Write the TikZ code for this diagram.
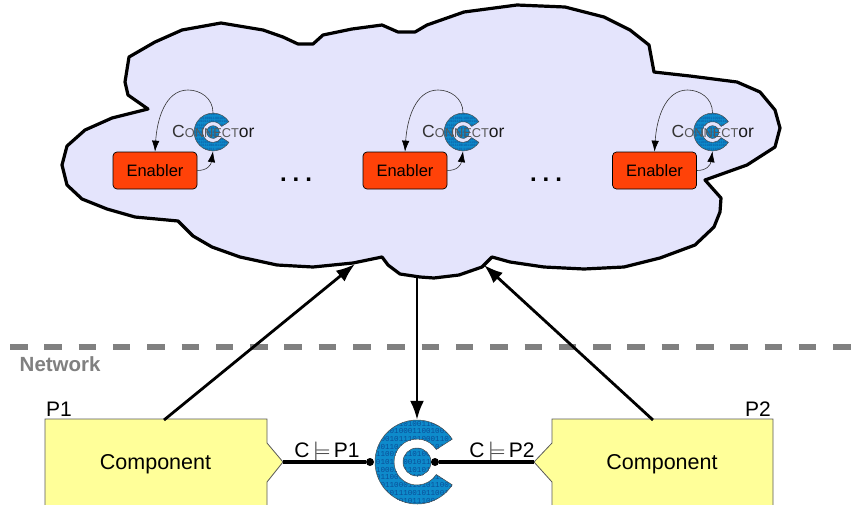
\documentclass[tikz,border=0pt]{standalone}
\usepackage{fontspec}
\setmainfont{Liberation Sans}
\setmonofont{Liberation Mono}
\usetikzlibrary{arrows.meta,calc}
\definecolor{cloudfill}{HTML}{E4E4FC}
\definecolor{enfill}{HTML}{FF4208}
\definecolor{compfill}{HTML}{FFFF99}
\definecolor{logoblue}{HTML}{0E8BCB}
\definecolor{logodark}{HTML}{0A4F98}
\definecolor{netgray}{HTML}{808080}
\newcommand{\fsz}[1]{\fontsize{#1}{#1}\selectfont}
\tikzset{
  cloudshape/.style={draw=black,line width=3.2pt,line join=round,fill=cloudfill},
  enablerbox/.style={draw=black,line width=0.7pt,fill=enfill,rounded corners=4pt,minimum width=84pt,minimum height=37pt,inner sep=0pt,font=\fsz{16.5}},
  compshape/.style={draw=black!65,line width=0.8pt,fill=compfill},
  complabel/.style={inner sep=0pt,font=\fsz{21.5}},
  biglink/.style={line width=2.8pt,-{Latex[length=19pt,width=14pt]}},
  smalllink/.style={line width=0.6pt,draw=black!80,-{Latex[length=11pt,width=7.5pt,black]}},
  wire/.style={line width=3.2pt},
  wiredot/.style={circle,fill=black,inner sep=0pt,minimum size=8pt},
  sidelabel/.style={inner sep=0pt,font=\fsz{21}},
  dotsrow/.style={inner sep=0pt,font=\bfseries\fsz{24}},
}
% \logoC{center}{scale}
\newcommand{\logoC}[2]{%
  \begin{scope}[shift={(#1)},scale=#2]
    \def\cpath{(33:42) arc (33:327:42) -- (327:23) arc (327:33:23) -- cycle (14,0) arc (0:360:14)}
    \fill[logoblue] \cpath;
    \begin{scope}
      \clip \cpath;
      \foreach \t [count=\k from 0] in {101011010011001011,011010001100100110,100101110100011010,001101001011101001,110010110100101100,010111001011010011,100010110101100101,011001101010011010,101100011010110010,001011100101100101,110100101110010110}
        \node[font=\ttfamily\fsz{7.6},text=logodark,inner sep=0pt,transform shape] at (0,{-38.5+7.7*\k}) {\t};
    \end{scope}
    \draw[black!70,line width=0.5pt] (33:42) arc (33:327:42) -- (327:23) arc (327:33:23) -- cycle (14,0) arc (0:360:14);
  \end{scope}%
}
\begin{document}
\begin{tikzpicture}[x=1pt,y=-1pt]
\useasboundingbox (0,0) rectangle (854,504);
\clip (0,0) rectangle (854,504);
\fill[white] (0,0) rectangle (854,504);
% cloud
\draw[cloudshape] (221,23) -- (263,30) -- (283,37) -- (298,44) -- (313,44) -- (323,35) -- (352,29) -- (382,25) -- (398,32) -- (415,32) -- (427,25) -- (464,12) -- (517,5) -- (565,7) -- (604,17) -- (630,30) -- (649,45) -- (654,72) -- (690,76) -- (737,82) -- (760,92) -- (775,110) -- (780,128) -- (775,147) -- (747,165) -- (705,180) -- (721,198) -- (720,212) -- (714,227) -- (695,245) -- (660,258) -- (624,267) -- (584,269) -- (544,267) -- (510,262) -- (492,257) -- (482,267) -- (459,275) -- (434,278) -- (420,277) -- (400,274) -- (388,265) -- (382,257) -- (353,263) -- (313,267) -- (277,265) -- (240,257) -- (212,247) -- (193,236) -- (178,221) -- (135,217) -- (107,209) -- (82,199) -- (67,185) -- (62,165) -- (67,146) -- (85,130) -- (112,118) -- (148,109) -- (128,95) -- (125,82) -- (129,57) -- (155,42) -- (182,30) -- cycle;
% enablers and small logos
\foreach \i/\dx in {1/0,2/250,3/499.5} {
  \logoC{213+\dx,132}{0.45}
  \node[circle,minimum size=38pt,inner sep=0pt] (L\i) at (213+\dx,132) {};
  \node[enablerbox] (E\i) at (155+\dx,170.5) {Enabler};
  \node[anchor=base west,inner sep=0pt] (T\i) at (172+\dx,137) {\fsz{17.5}\textcolor{black!80}{C}\fsz{12.8}\textcolor{black!65}{ONNECT}\fsz{17.5}\textcolor{black!90}{or}};
  \draw[smalllink] (L\i.north) .. controls ($(L\i.north)+(0,-15)$) and (200+\dx,90) .. (188+\dx,90) .. controls (165+\dx,90) and (157+\dx,120) .. (E\i.north);
  \draw[smalllink] (E\i.east) .. controls ($(E\i.east)+(10,0)$) and (211+\dx,165) .. (L\i.south);
}
\node[dotsrow] (D1) at (296,180) {.\hspace{6pt}.\hspace{6pt}.};
\node[dotsrow] (D2) at (546,180) {.\hspace{6pt}.\hspace{6pt}.};
% network line
\coordinate (NL) at (10,347);
\coordinate (NR) at (854,347);
\draw[netgray,line width=6.4pt,dash pattern=on 17.5pt off 16.8pt] (NL) -- (NR);
\node[anchor=base west,inner sep=0pt,text=netgray,font=\bfseries\fsz{20.5}] (net) at (19.5,371) {Network};
% components
\draw[compshape] (45,419) -- (267,419) -- (267,443) -- (283,462) -- (267,482) -- (267,510) -- (45,510) -- cycle;
\draw[compshape] (773,419) -- (552,419) -- (552,443) -- (534,462) -- (552,482) -- (552,510) -- (773,510) -- cycle;
\node[complabel] (C1) at (155.5,464) {Component};
\node[complabel] (C2) at (662,464) {Component};
\node[anchor=base west,inner sep=0pt,font=\fsz{21}] (P1) at (46,416) {P1};
\node[anchor=base east,inner sep=0pt,font=\fsz{21}] (P2) at (771,416) {P2};
\coordinate (tip1) at (283,462);
\coordinate (tip2) at (534,462);
% big logo
\logoC{417,462}{1}
\node[circle,minimum size=84pt,inner sep=0pt] (BL) at (417,462) {};
\node[wiredot] (d1) at (370,462) {};
\node[wiredot] (d2) at (435,462) {};
\draw[wire] (tip1) -- (d1);
\draw[wire] (d2) -- (tip2);
\node[sidelabel,anchor=base] (lab1) at (327,457) {C\,$\models$\,P1};
\node[sidelabel,anchor=base] (lab2) at (502,457) {C\,$\models$\,P2};
% big arrows
\coordinate (a1s) at (164,420);
\coordinate (a1e) at (355,264);
\coordinate (a2s) at (417,277);
\coordinate (a3s) at (653,420);
\coordinate (a3e) at (484,265);
\draw[biglink] (a1s) -- (a1e);
\draw[biglink] (a2s) -- (BL.north);
\draw[biglink] (a3s) -- (a3e);
\end{tikzpicture}
\end{document}
